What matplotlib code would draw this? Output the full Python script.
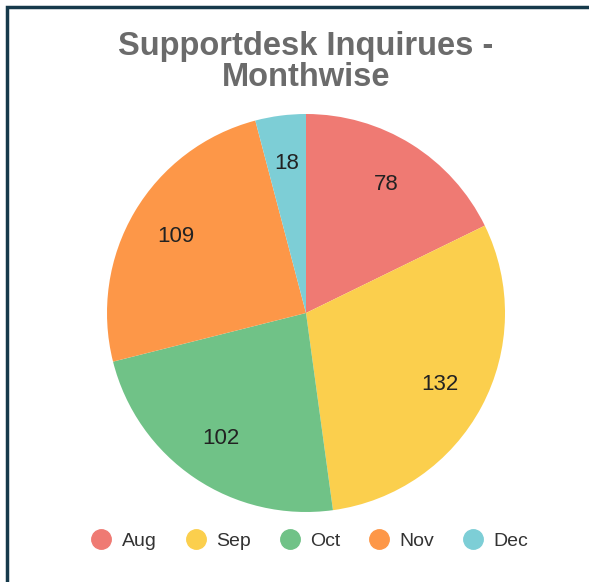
import matplotlib
matplotlib.use("Agg")
import matplotlib.pyplot as plt
from matplotlib.lines import Line2D
from matplotlib.patches import Rectangle
import numpy as np

months = ["Aug", "Sep", "Oct", "Nov", "Dec"]
inquiries = [78, 132, 102, 109, 18]
colors = ["#EF7A73", "#FBCF4D", "#70C287", "#FD9748", "#7DCED6"]
title = "Supportdesk Inquirues -\nMonthwise"

W, H = 589, 582
fig = plt.figure(figsize=(W / 100, H / 100), dpi=100)
fig.patch.set_facecolor("white")
plt.rcParams["font.family"] = ["Liberation Sans", "DejaVu Sans"]

# border (left & top visible)
fig.add_artist(Rectangle((7 / W, -0.1), 1.2, 1.1 - 7 / H, transform=fig.transFigure,
                         fill=False, edgecolor="#163a4b", linewidth=2.5))

cx, cy, r = 306, 313, 199
ax = fig.add_axes([(cx - r) / W, (H - cy - r) / H, 2 * r / W, 2 * r / H])
wedges, _ = ax.pie(inquiries, colors=colors, startangle=90, counterclock=False,
                   radius=1.0, wedgeprops=dict(linewidth=0))
ax.set_xlim(-1, 1)
ax.set_ylim(-1, 1)
ax.set_aspect("equal")
ax.axis("off")

for w, v in zip(wedges, inquiries):
    ang = np.deg2rad((w.theta1 + w.theta2) / 2)
    d = 0.76
    ax.text(d * np.cos(ang), d * np.sin(ang), str(v), ha="center", va="center",
            fontsize=16, color="#222222")

fig.text(cx / W, 1 - 62 / H, title, ha="center", va="center", fontsize=23.5,
         fontweight="bold", color="#6b6b6b", linespacing=1.0)

handles = [Line2D([0], [0], marker="o", linestyle="", markersize=14,
                  markerfacecolor=c, markeredgecolor=c) for c in colors]
fig.legend(handles, months, loc="center", bbox_to_anchor=(309 / W, 1 - 541 / H),
           ncol=5, frameon=False, fontsize=14, handletextpad=0.45,
           columnspacing=1.4, labelcolor="#333333", handlelength=1.2)

fig.savefig("out.png", dpi=100)
